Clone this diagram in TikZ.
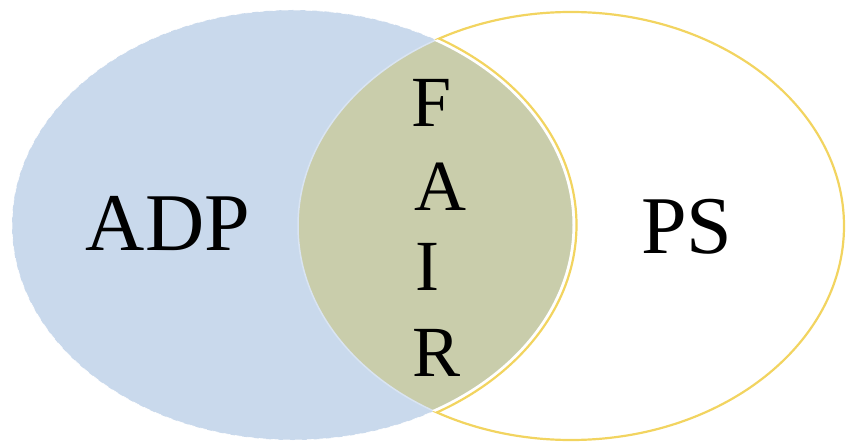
\documentclass[tikz,border=0pt]{standalone}
\usepackage{fontspec}
\setmainfont{Liberation Serif}
\usepackage{tikz}

\definecolor{adpblue}{RGB}{201,217,236}
\definecolor{fairgreen}{RGB}{201,205,171}
\definecolor{psyellow}{RGB}{242,212,96}

\begin{document}
\begin{tikzpicture}[x=1pt,y=1pt,
  adp shape/.style={x radius=281,y radius=215},
  ps shape/.style={x radius=273,y radius=214},
  set node/.style={inner sep=0pt,anchor=base,font=\fontsize{82}{90}\selectfont},
  letter node/.style={inner sep=0pt,anchor=base,font=\fontsize{72}{80}\selectfont}]
  \useasboundingbox (0,0) rectangle (846,445);
  \coordinate (adpc) at (293,220);
  \coordinate (psc) at (571,219);

  % left set
  \fill[adpblue] (adpc) ellipse [adp shape];
  \draw[white,line width=0.6pt,dash pattern=on 7pt off 5pt] (adpc) ellipse [adp shape];

  % overlap
  \begin{scope}
    \clip (adpc) ellipse [adp shape];
    \fill[fairgreen] (psc) ellipse [ps shape];
    \draw[adpblue!70!white,line width=1.5pt] (psc) ellipse [ps shape];
  \end{scope}

  % right set outline
  \begin{scope}[even odd rule]
    \clip (0,0) rectangle (846,445) (adpc) ellipse [adp shape];
    \draw[psyellow,line width=2.2pt] (psc) ellipse [ps shape];
  \end{scope}
  \begin{scope}
    \clip (psc) ellipse [ps shape];
    \draw[white,line width=3pt] (adpc) ellipse [adp shape];
    \draw[psyellow,line width=2.2pt] (adpc) ellipse [x radius=283.5,y radius=217.5];
  \end{scope}

  \node[set node] (adp) at (168,194) {ADP};
  \node[set node] (ps) at (687,191) {PS};
  \node[letter node] (f) at (432,318) {F};
  \node[letter node] (a) at (440,234) {A};
  \node[letter node] (i) at (427,154) {I};
  \node[letter node] (r) at (437,69) {R};
\end{tikzpicture}
\end{document}
